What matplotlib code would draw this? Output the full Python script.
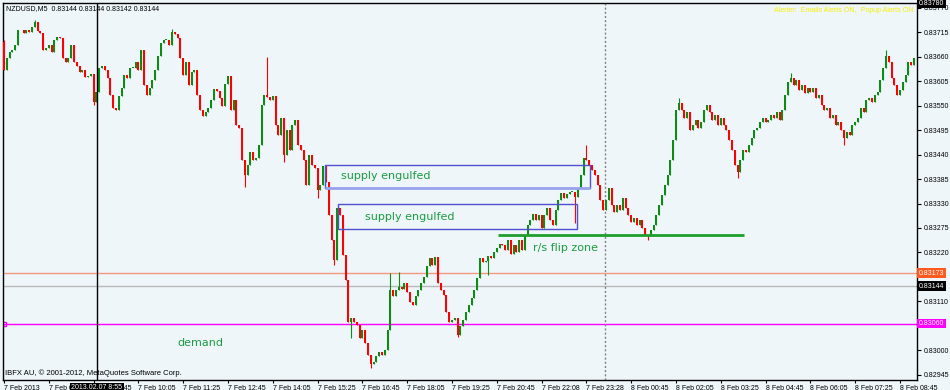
import numpy as np
import matplotlib.pyplot as plt
from matplotlib.patches import Rectangle
import matplotlib.transforms as mtransforms

plt.rcParams['font.family'] = ['Liberation Sans', 'DejaVu Sans']

# NZDUSD M5 closes, in points above 0.82900 (1 point = 0.00001)
BASE = 0.82900
first_open = 793
closes = [
    730, 757, 771, 775, 787, 820, 820, 814, 820, 816, 827, 838, 818, 814, 775, 780, 787, 771, 798, 805,
    802, 757, 748, 757, 787, 748, 739, 726, 730, 715, 717, 721, 658, 681,
    735, 739, 730, 712, 674, 645, 640, 672, 690, 719, 712, 735, 735, 748, 730, 775, 697, 674, 690, 708,
    730, 762,
    791, 798, 798, 787, 816, 811, 802, 757, 719, 748, 697, 726, 730, 674, 640, 627, 636, 645, 663, 688,
    683, 667, 649, 699, 717, 640, 663, 607, 600,
    528, 494, 517, 546, 528, 532, 562, 652, 674, 670, 663, 672, 607, 584, 622, 539, 595, 550, 607, 618,
    562, 550, 528, 472, 539,
    517, 510, 460, 472, 514, 478, 404, 348, 303, 420, 404, 314, 258, 164, 173, 164, 157, 128, 146, 116,
    89,
    69, 73, 87, 96, 89, 100, 145, 235, 222, 235, 242, 238, 251, 231, 208, 202, 222, 235, 251, 265,
    290, 308, 292, 310, 251, 235, 224, 186, 164, 168, 173, 134, 155, 168, 186, 202, 218, 235, 262, 308,
    299, 301, 312, 308, 321, 330, 339, 337, 325, 348, 317, 337, 321, 348, 325, 359, 382, 393, 406, 393,
    404, 375, 404, 420, 393, 382, 415, 438, 454, 442, 451, 456, 456, 445, 465, 494, 532, 528, 517, 505,
    494, 472, 438, 415, 438, 465,
    427, 411, 427, 415, 442, 420, 404, 388, 397, 382, 393, 375, 359, 357, 370, 382, 404, 427, 449, 472,
    494, 528, 573, 640, 656, 640, 622, 636, 595, 607, 618, 600, 613, 640, 652, 636, 618, 629, 607, 622,
    607, 595, 573, 550, 517, 501,
    528, 550, 546, 562, 577, 595, 600, 613, 622, 613, 618, 629, 622, 636, 618, 640, 674, 703, 712, 697,
    708, 685, 697, 679, 690, 681, 690, 667, 674, 652, 640, 645, 622, 629, 607, 613, 595, 577, 591, 584,
    607, 613, 622, 645, 636, 663, 667, 658, 674, 681, 708, 735, 762, 748, 712, 697, 674, 685, 703, 719,
    748, 742, 757,
]
# visible long wicks (bar index -> points)
spike_highs = {0: 798, 11: 843, 60: 823, 94: 760, 138: 274, 141: 276, 208: 562, 241: 667, 281: 724, 315: 776}
spike_lows = {32: 652, 86: 467, 100: 523, 112: 442, 118: 292, 124: 128, 131: 60, 162: 130, 173: 269,
              204: 386, 230: 348, 262: 487, 300: 562}

# price levels
level_orange = 0.83173
level_bid = 0.83144
level_magenta = 0.83060
supply1 = (114.5, 209.3, 0.83365, 0.83417)
supply2 = (119.3, 204.6, 0.83273, 0.83329)
flip_line = (176.4, 264.3, 0.83259)
crosshair_bar = 33.2
separator_bar = 214.6

price_ticks = [0.83770, 0.83715, 0.83660, 0.83605, 0.83550, 0.83495, 0.83440, 0.83385, 0.83330,
               0.83275, 0.83220, 0.83110, 0.83000, 0.82945]
time_tick_bars = [0, 16, 32, 48, 64, 80, 96, 112, 128, 144, 160, 176, 192, 208, 224, 240, 256, 272, 288, 304, 320]
time_labels = ["7 Feb 2013", "7 Feb 07:25", "7 Feb 08:45", "7 Feb 10:05", "7 Feb 11:25", "7 Feb 12:45",
               "7 Feb 14:05", "7 Feb 15:25", "7 Feb 16:45", "7 Feb 18:05", "7 Feb 19:25", "7 Feb 20:45",
               "7 Feb 22:08", "7 Feb 23:28", "8 Feb 00:45", "8 Feb 02:05", "8 Feb 03:25", "8 Feb 04:45",
               "8 Feb 06:05", "8 Feb 07:25", "8 Feb 08:45"]

c = BASE + np.array(closes) / 1e5
o = np.concatenate([[BASE + first_open / 1e5], c[:-1]])
h = np.maximum(o, c)
l = np.minimum(o, c)
for k, v in spike_highs.items():
    h[k] = max(h[k], BASE + v / 1e5)
for k, v in spike_lows.items():
    l[k] = min(l[k], BASE + v / 1e5)
x = np.arange(len(c))

BG = '#eef6fa'
BULL = '#0c8c14'
BEAR = '#ff0000'
W, H = 950, 390

fig = plt.figure(figsize=(9.5, 3.9), dpi=100, facecolor=BG)
ax = fig.add_axes([3 / W, 1 - 380 / H, (917 - 3) / W, (380 - 3) / H], facecolor=BG)

# horizontal levels
ax.axhline(level_orange, color='#f29a80', lw=1, zorder=1)
ax.axhline(level_bid, color='#b8b8b8', lw=1, zorder=1)
ax.axhline(level_magenta, color='#ff00ff', lw=1, zorder=1)
ax.plot([0], [level_magenta], marker='s', ms=3, mfc='none', mec='#ff00ff', zorder=2)

# candles
cols = np.where(c >= o, BULL, BEAR)
ax.vlines(x, l, h, colors=cols, lw=0.8, zorder=3)
body = np.maximum(np.abs(c - o), 0.000012)
ax.bar(x, body, bottom=np.minimum(o, c), width=0.72, color=cols, linewidth=0, zorder=4)

# supply rectangles and flip zone
for x0, x1, y0, y1 in (supply1, supply2):
    ax.add_patch(Rectangle((x0, y0), x1 - x0, y1 - y0, fill=False, ec='#5050d0', lw=1, zorder=5))
ax.hlines(supply1[2], supply1[0], supply1[1], color='#9aa4ec', lw=2, zorder=5)
ax.hlines(flip_line[2], flip_line[0], flip_line[1], color='#1f9e2c', lw=2, zorder=5)

tc = '#1c9c40'
for tx, ty, s in ((120.4, 0.83392, "supply engulfed"), (129, 0.83300, "supply engulfed"),
                  (189, 0.83230, "r/s flip zone"), (62, 0.83016, "demand")):
    ax.text(tx, ty, s, color=tc, fontsize=8, family='DejaVu Sans', va='center', zorder=6)

# crosshair and period separator
ax.axvline(crosshair_bar, color='black', lw=1, zorder=6)
ax.axvline(separator_bar, color='#808080', lw=1, ls=(0, (1.5, 1.5)), zorder=2)

ax.set_xlim(-0.36, 326.07)
ax.set_ylim(0.82933, 0.83781)

for s in ax.spines.values():
    s.set_color('black')
    s.set_linewidth(1)

ax.yaxis.tick_right()
ax.set_yticks(price_ticks)
ax.set_yticklabels([f"{p:.5f}" for p in price_ticks])
ax.tick_params(axis='y', direction='out', length=3, labelsize=5, pad=1.5, colors='black')
ax.set_xticks(time_tick_bars)
ax.set_xticklabels(time_labels, ha='left')
ax.tick_params(axis='x', direction='out', length=2, labelsize=5, pad=1.5, colors='black')

# price boxes on the right axis
trans = mtransforms.blended_transform_factory(ax.transAxes, ax.transData)
for val, fc in ((level_orange, '#ff5a1e'), (level_bid, 'black'), (level_magenta, '#ff00ff'), (0.83780, 'black')):
    ax.text(1.002, val, f"{val:.5f}", transform=trans, color='white', fontsize=5, va='center', ha='left',
            bbox=dict(boxstyle='square,pad=0.2', fc=fc, ec='none'), clip_on=False, zorder=7)

# crosshair time box
ax.text(crosshair_bar, -0.02, "2013.02.07 8:55",
        transform=mtransforms.blended_transform_factory(ax.transData, ax.transAxes),
        color='white', fontsize=5, ha='center', va='center',
        bbox=dict(boxstyle='square,pad=0.2', fc='black', ec='none'), clip_on=False, zorder=7)

fig.text(6 / W, 1 - 9 / H, "NZDUSD,M5  0.83144 0.83144 0.83142 0.83144", fontsize=5, color='black', va='center')
fig.text(913 / W, 1 - 10 / H, "Alerter:  Emails Alerts ON,  Popup Alerts ON", fontsize=5, color='#f5f000',
         va='center', ha='right')
fig.text(5 / W, 1 - 373 / H, "IBFX AU, \u00a9 2001-2012, MetaQuotes Software Corp.", fontsize=5.5, color='black',
         va='center')

fig.savefig('out.png', dpi=100, facecolor=BG)
